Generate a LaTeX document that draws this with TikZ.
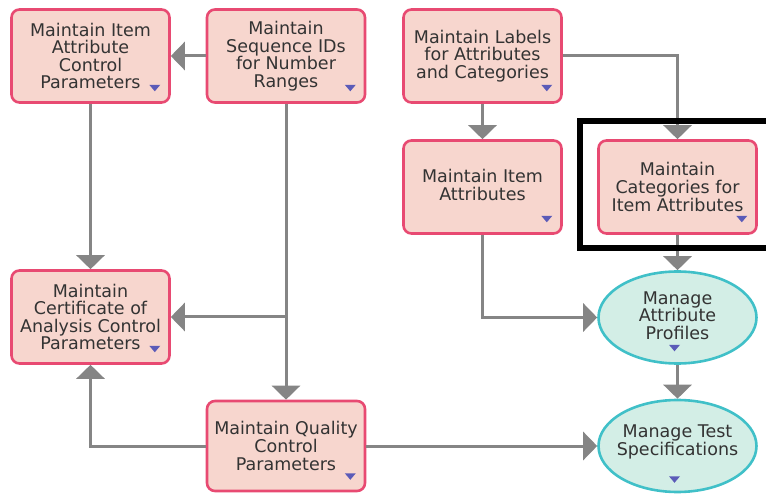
\documentclass[tikz,border=0pt]{standalone}
\usepackage{fontspec}
\setmainfont{DejaVu Sans}
\usetikzlibrary{arrows.meta,calc,shapes.geometric}

\definecolor{taskfill}{HTML}{F7D6CE}
\definecolor{taskline}{HTML}{E84A72}
\definecolor{procfill}{HTML}{D3EEE6}
\definecolor{procline}{HTML}{40C0C8}
\definecolor{connline}{HTML}{858585}
\definecolor{markfill}{HTML}{5B5BB8}
\definecolor{labeltext}{HTML}{333333}

\tikzset{
  labelfont/.style={align=center, text=labeltext,
    font=\fontsize{17.5pt}{17.6pt}\selectfont},
  taskbox/.style={rectangle, rounded corners=8pt, draw=taskline, fill=taskfill,
    line width=2.6pt, minimum width=158pt, minimum height=93pt, inner sep=0pt,
    labelfont},
  procnode/.style={ellipse, draw=procline, fill=procfill,
    line width=2.6pt, minimum width=158pt, minimum height=92pt, inner sep=0pt},
  proclabel/.style={inner sep=0pt, labelfont},
  conn/.style={draw=connline, line width=3pt,
    -{Triangle[length=14pt,width=28pt]}},
  mk/.style={fill=markfill},
  focusframe/.style={draw=black, line width=6pt}
}

% small drop-down marker in the lower right corner of a box
\newcommand\boxmark[1]{\fill[mk] ($(#1.south east)+(-21.5,-19)$) -- ++(11,0) -- ++(-5.5,6.5) -- cycle;}
% drop-down marker under the text of an ellipse
\newcommand\ellmark[2]{\fill[mk] ($(#1.south)+(-8.5,-#2)$) -- ++(11,0) -- ++(-5.5,6.5) -- cycle;}

\begin{document}
\begin{tikzpicture}[x=1pt,y=-1pt]
\useasboundingbox (0,0) rectangle (766,494);

% tasks
\node[taskbox] (A) at (90.5,56) {Maintain Item\\Attribute\\Control\\Parameters};
\node[taskbox] (B) at (286,56) {Maintain\\Sequence IDs\\for Number\\Ranges};
\node[taskbox] (C) at (482.5,56) {Maintain Labels\\for Attributes\\and Categories};
\node[taskbox] (D) at (482.5,187) {};
\node[proclabel] (Dtext) at (482.5,185) {Maintain Item\\Attributes};
\node[taskbox] (E) at (677.5,187) {Maintain\\Categories for\\Item Attributes};
\node[taskbox] (F) at (90.5,317) {Maintain\\Certificate of\\Analysis Control\\Parameters};
\node[taskbox, minimum height=90pt] (G) at (286,446) {Maintain Quality\\Control\\Parameters};

% processes
\node[procnode] (H) at (677.5,317.5) {};
\node[proclabel] (Htext) at (677.5,315.5) {Manage\\Attribute\\Profiles};
\node[procnode] (I) at (677.5,446) {};
\node[proclabel] (Itext) at (677.5,442) {Manage Test\\Specifications};

% markers
\boxmark{A}
\boxmark{B}
\boxmark{C}
\boxmark{D}
\boxmark{E}
\boxmark{F}
\boxmark{G}
\ellmark{H}{20}
\ellmark{I}{17}

% connectors
\draw[conn] (B.west) -- (A.east);
\draw[conn] (C.south) -- (D.north);
\draw[conn] (C.east) -| (E.north);
\draw[conn] (A.south) -- (F.north);
\draw[conn] (B.south) -- (G.north);
\draw[conn] (B.south |- F.east) -- (F.east);
\draw[conn] (G.west) -| (F.south);
\draw[conn] (G.east) -- (I.west);
\draw[conn] (D.south) |- (H.west);
\draw[conn] (E.south) -- (H.north);
\draw[conn] (H.south) -- (I.north);

% highlight frame, open to the right edge
\draw[focusframe] (775,121.5) -- (580,121.5) -- (580,248) -- (775,248);
\end{tikzpicture}
\end{document}
